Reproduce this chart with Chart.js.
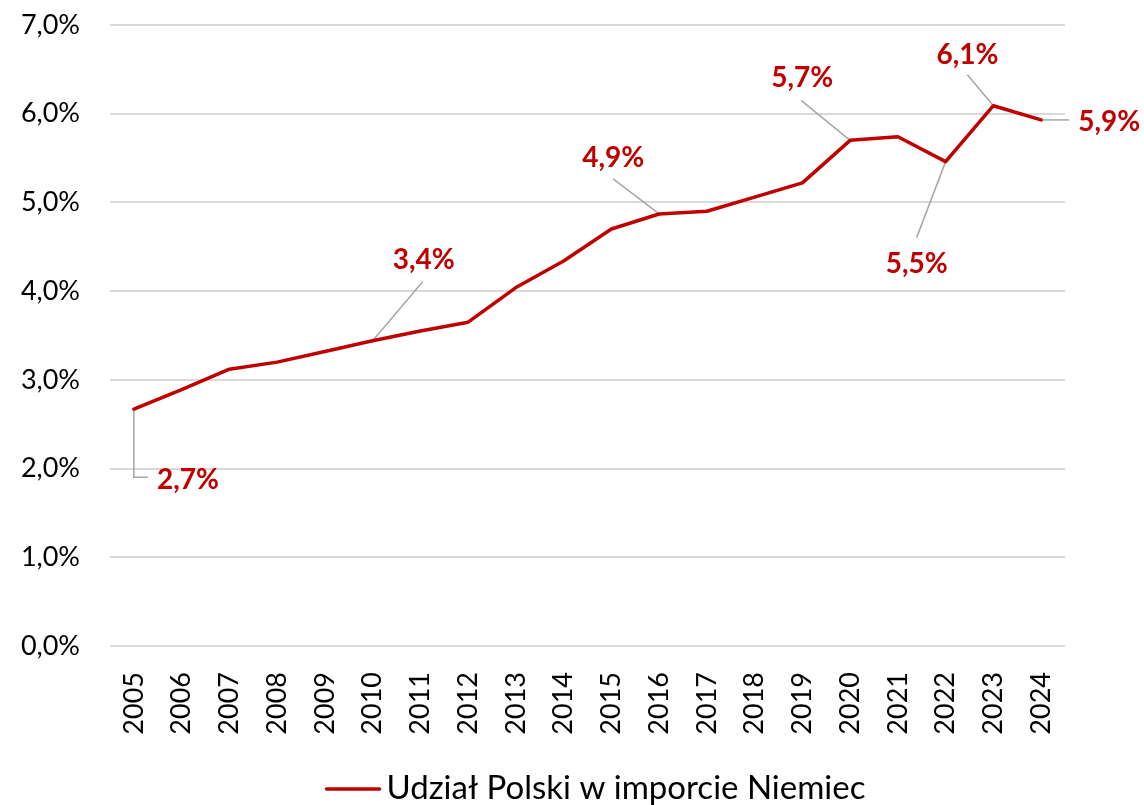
<!DOCTYPE html>
<html lang="pl">
<head>
<meta charset="utf-8">
<title>Udział Polski w imporcie Niemiec</title>
<script src="https://cdn.jsdelivr.net/npm/chart.js@4.4.1/dist/chart.umd.min.js"></script>
<style>
    html, body { margin: 0; padding: 0; background: #fff; }
    #wrap { width: 1144px; height: 805px; position: relative; }
</style>
</head>
<body>
<div id="wrap"><canvas id="importChart"></canvas></div>
<script>
// Lata na osi X
const years = ['2005', '2006', '2007', '2008', '2009', '2010', '2011', '2012', '2013', '2014',
               '2015', '2016', '2017', '2018', '2019', '2020', '2021', '2022', '2023', '2024'];

// Udział Polski w imporcie Niemiec (%)
const shareValues = [2.67, 2.89, 3.12, 3.20, 3.32, 3.44, 3.55, 3.65, 4.04, 4.34,
                     4.70, 4.87, 4.90, 5.06, 5.22, 5.70, 5.74, 5.46, 6.09, 5.93];

// Podziałka osi Y (%)
const yTicks = [0, 1, 2, 3, 4, 5, 6, 7];

// Lata, przy których pokazujemy wartość
const labeledYears = ['2005', '2010', '2016', '2020', '2022', '2023', '2024'];

const seriesName = 'Udział Polski w imporcie Niemiec';
const RED = '#C00000';
const FONT = 'Lato, "Open Sans", sans-serif';

const fmtPct = v => v.toFixed(1).replace('.', ',') + '%';

// Położenie podpisów względem punktu: środek tekstu i łamana linii odniesienia
const callouts = {
    '2005': { text: [54, 70],  leader: [[0, 0], [0, 68], [14, 68]] },
    '2010': { text: [51, -82], leader: [[0, 0], [50, -59]] },
    '2016': { text: [-46, -57], leader: [[0, 0], [-46, -35]] },
    '2020': { text: [-48, -63], leader: [[0, 0], [-49, -40]] },
    '2022': { text: [-29, 101], leader: [[0, 0], [-29, 76]] },
    '2023': { text: [-26, -52], leader: [[0, 0], [-26, -31]] },
    '2024': { text: [68, 1],   leader: [[0, 0], [28, 0]] }
};

// Podpisy wartości z szarymi liniami odniesienia
const calloutPlugin = {
    id: 'callouts',
    beforeDatasetsDraw(chart) {
        const ctx = chart.ctx;
        const meta = chart.getDatasetMeta(0);
        ctx.save();
        ctx.strokeStyle = '#A6A6A6';
        ctx.lineWidth = 1.5;
        labeledYears.forEach(y => {
            const el = meta.data[years.indexOf(y)];
            const pts = callouts[y].leader;
            ctx.beginPath();
            pts.forEach(([dx, dy], i) => {
                if (i === 0) ctx.moveTo(el.x + dx, el.y + dy);
                else ctx.lineTo(el.x + dx, el.y + dy);
            });
            ctx.stroke();
        });
        ctx.restore();
    },
    afterDatasetsDraw(chart) {
        const ctx = chart.ctx;
        const meta = chart.getDatasetMeta(0);
        ctx.save();
        ctx.fillStyle = RED;
        ctx.font = 'bold 28px ' + FONT;
        ctx.textAlign = 'center';
        ctx.textBaseline = 'alphabetic';
        labeledYears.forEach(y => {
            const i = years.indexOf(y);
            const el = meta.data[i];
            const [tx, ty] = callouts[y].text;
            ctx.fillText(fmtPct(shareValues[i]), el.x + tx, el.y + ty + 10);
        });
        ctx.restore();
    }
};

// Legenda pod wykresem
const legendPlugin = {
    id: 'bottomLegend',
    afterDraw(chart) {
        const ctx = chart.ctx;
        const ds = chart.data.datasets[0];
        ctx.save();
        ctx.font = '33px ' + FONT;
        const tw = ctx.measureText(ds.label).width;
        const lineW = 53, gap = 7;
        const x0 = 596 - (lineW + gap + tw) / 2;
        ctx.strokeStyle = ds.borderColor;
        ctx.lineWidth = 3.5;
        ctx.lineCap = 'round';
        ctx.beginPath();
        ctx.moveTo(x0, 789);
        ctx.lineTo(x0 + lineW, 789);
        ctx.stroke();
        ctx.fillStyle = '#000';
        ctx.textBaseline = 'alphabetic';
        ctx.fillText(ds.label, x0 + lineW + gap, 799);
        ctx.restore();
    }
};

const ctx = document.getElementById('importChart').getContext('2d');
const importChart = new Chart(ctx, {
    type: 'line',
    data: {
        labels: years,
        datasets: [{
            label: seriesName,
            data: shareValues,
            borderColor: RED,
            backgroundColor: RED,
            borderWidth: 3.5,
            borderJoinStyle: 'round',
            borderCapStyle: 'round',
            pointRadius: 0,
            tension: 0,
            fill: false
        }]
    },
    options: {
        responsive: true,
        maintainAspectRatio: false,
        animation: false,
        layout: {
            padding: { left: 0, top: 25, right: 79, bottom: 0 }
        },
        plugins: {
            legend: { display: false },
            tooltip: { enabled: false }
        },
        scales: {
            x: {
                offset: true,
                grid: { display: false },
                border: { display: false },
                ticks: {
                    autoSkip: false,
                    minRotation: 90,
                    maxRotation: 90,
                    padding: 18,
                    color: '#000',
                    font: { family: FONT, size: 27 }
                },
                afterFit: scale => {
                    scale.height = 159;
                    scale.paddingLeft = 0;
                    scale.paddingRight = 0;
                }
            },
            y: {
                min: 0,
                max: 7,
                grid: { color: '#D9D9D9', lineWidth: 2, drawTicks: false },
                border: { display: false },
                ticks: {
                    padding: 30,
                    color: '#000',
                    font: { family: FONT, size: 27 },
                    callback: v => fmtPct(v)
                },
                afterBuildTicks: scale => {
                    scale.ticks = yTicks.map(v => ({ value: v }));
                },
                afterFit: scale => {
                    scale.width = 110;
                    scale.paddingTop = 0;
                    scale.paddingBottom = 0;
                }
            }
        }
    },
    plugins: [calloutPlugin, legendPlugin]
});
</script>
</body>
</html>
